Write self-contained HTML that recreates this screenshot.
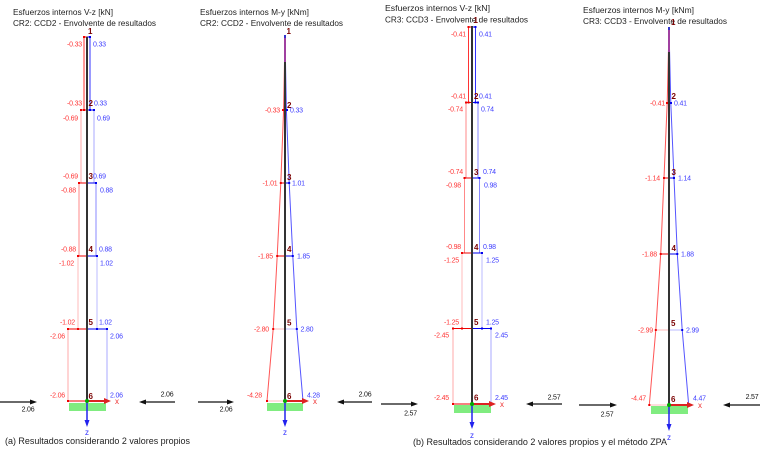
<!DOCTYPE html>
<html><head><meta charset="utf-8"><style>
html,body{margin:0;padding:0;background:#fff;}
svg{display:block;}
.t{font-family:"Liberation Sans",sans-serif;font-size:8.5px;fill:#222;}
.cap{font-family:"Liberation Sans",sans-serif;font-size:9px;fill:#222;}
.r{font-family:"Liberation Sans",sans-serif;font-size:7px;fill:#ff3535;text-anchor:end;letter-spacing:-0.2px;}
.b{font-family:"Liberation Sans",sans-serif;font-size:7px;fill:#3c3cff;letter-spacing:-0.2px;}
.k{font-family:"Liberation Sans",sans-serif;font-size:7px;fill:#111;text-anchor:middle;letter-spacing:-0.2px;}
.n{font-family:"Liberation Sans",sans-serif;font-size:8px;font-weight:bold;fill:#7a0000;}
.ax{font-family:"Liberation Sans",sans-serif;font-size:8px;}
</style></head><body>
<svg width="760" height="453" viewBox="0 0 760 453" xmlns="http://www.w3.org/2000/svg">

<!-- ============ PANEL 1 : V-z CR2 ============ -->
<text class="t" x="13" y="15" textLength="100" lengthAdjust="spacingAndGlyphs">Esfuerzos internos V-z [kN]</text>
<text class="t" x="13" y="26" textLength="143" lengthAdjust="spacingAndGlyphs">CR2: CCD2 - Envolvente de resultados</text>
<g stroke-width="1" fill="none">
  <line x1="84" y1="37" x2="84" y2="110" stroke="#f33"/>
  <line x1="90" y1="37" x2="90" y2="110" stroke="#33f"/>
  <line x1="81" y1="110" x2="81" y2="183" stroke="#faa"/>
  <line x1="94" y1="110" x2="94" y2="183" stroke="#aaf"/>
  <line x1="79" y1="183" x2="79" y2="256" stroke="#f88"/>
  <line x1="96" y1="183" x2="96" y2="256" stroke="#88f"/>
  <line x1="78" y1="256" x2="78" y2="329" stroke="#fbb"/>
  <line x1="97" y1="256" x2="97" y2="329" stroke="#bbf"/>
  <line x1="68" y1="329" x2="68" y2="401" stroke="#faa"/>
  <line x1="107" y1="329" x2="107" y2="401" stroke="#aaf"/>
  <line x1="84" y1="37" x2="87" y2="37" stroke="#e00"/><line x1="87" y1="37" x2="90" y2="37" stroke="#00e"/>
  <line x1="81" y1="110" x2="87" y2="110" stroke="#e00"/><line x1="87" y1="110" x2="94" y2="110" stroke="#00e"/>
  <line x1="79" y1="183" x2="87" y2="183" stroke="#e00"/><line x1="87" y1="183" x2="96" y2="183" stroke="#00e"/>
  <line x1="78" y1="256" x2="87" y2="256" stroke="#e00"/><line x1="87" y1="256" x2="97" y2="256" stroke="#00e"/>
  <line x1="68" y1="329" x2="87" y2="329" stroke="#e00"/><line x1="87" y1="329" x2="107" y2="329" stroke="#00e"/>
  <line x1="68" y1="401" x2="87" y2="401" stroke="#e00"/><line x1="87" y1="401" x2="107" y2="401" stroke="#00e"/>
</g>
<g fill="#e00"><rect x="83" y="36" width="2" height="2"/><rect x="80" y="109" width="2" height="2"/><rect x="83" y="109" width="2" height="2"/><rect x="78" y="182" width="2" height="2"/><rect x="77" y="255" width="2" height="2"/><rect x="67" y="328" width="2" height="2"/><rect x="77" y="328" width="2" height="2"/><rect x="67" y="400" width="2" height="2"/></g>
<g fill="#00e"><rect x="89" y="36" width="2" height="2"/><rect x="93" y="109" width="2" height="2"/><rect x="89" y="109" width="2" height="2"/><rect x="95" y="182" width="2" height="2"/><rect x="96" y="255" width="2" height="2"/><rect x="106" y="328" width="2" height="2"/><rect x="96" y="328" width="2" height="2"/></g>
<line x1="87" y1="37" x2="87" y2="401" stroke="#333" stroke-width="2"/>
<text class="r" x="82" y="46.5">-0.33</text><text class="b" x="93" y="46.5">0.33</text>
<text class="r" x="82" y="105.5">-0.33</text><text class="b" x="94" y="105.5">0.33</text>
<text class="r" x="78" y="120.5">-0.69</text><text class="b" x="97" y="120.5">0.69</text>
<text class="r" x="78" y="178.5">-0.69</text><text class="b" x="93" y="178.5">0.69</text>
<text class="r" x="76" y="192.5">-0.88</text><text class="b" x="100" y="192.5">0.88</text>
<text class="r" x="76" y="251.5">-0.88</text><text class="b" x="99" y="251.5">0.88</text>
<text class="r" x="74" y="265.5">-1.02</text><text class="b" x="100" y="265.5">1.02</text>
<text class="r" x="75" y="324.5">-1.02</text><text class="b" x="99" y="324.5">1.02</text>
<text class="r" x="65" y="338.5">-2.06</text><text class="b" x="110" y="338.5">2.06</text>
<text class="r" x="65" y="397.5">-2.06</text><text class="b" x="110" y="397.5">2.06</text>
<text class="n" x="88" y="34">1</text><text class="n" x="88.5" y="106">2</text><text class="n" x="88.5" y="179">3</text><text class="n" x="88.5" y="252">4</text><text class="n" x="88.5" y="325">5</text><text class="n" x="88.5" y="399">6</text>
<rect x="69" y="403" width="37" height="8" fill="#80ec80"/>
<line x1="87" y1="401" x2="106" y2="401" stroke="#d22" stroke-width="2"/><polygon points="104,398 111,401 104,404" fill="#d22"/>
<text class="ax" x="115" y="404" fill="#e33">x</text>
<line x1="87" y1="401" x2="87" y2="421" stroke="#22e" stroke-width="1.5"/><polygon points="84.5,420 87,427 89.5,420" fill="#22e"/>
<text class="ax" x="85" y="435" fill="#33f">z</text>
<circle cx="87" cy="401" r="2" fill="#0a0"/>
<line x1="0" y1="402" x2="31" y2="402" stroke="#111" stroke-width="1.3"/><polygon points="30,399.5 37,402 30,404.5" fill="#111"/>
<text class="k" x="28" y="411.5">2.06</text>
<line x1="175" y1="402" x2="145" y2="402" stroke="#111" stroke-width="1.3"/><polygon points="146,399.5 139,402 146,404.5" fill="#111"/>
<text class="k" x="167" y="396.5">2.06</text>

<!-- ============ PANEL 2 : M-y CR2 ============ -->
<text class="t" x="200" y="15" textLength="109" lengthAdjust="spacingAndGlyphs">Esfuerzos internos M-y [kNm]</text>
<text class="t" x="200" y="26" textLength="143" lengthAdjust="spacingAndGlyphs">CR2: CCD2 - Envolvente de resultados</text>
<polyline points="285,37 283.6,110 280.8,183 277.2,256 273.2,329 267,401" fill="none" stroke="#f55" stroke-width="1"/>
<polyline points="285,37 286.4,110 289.2,183 292.8,256 296.8,329 303,401" fill="none" stroke="#55f" stroke-width="1"/>
<g stroke-width="1">
  <line x1="283.6" y1="110" x2="285" y2="110" stroke="#e00"/><line x1="285" y1="110" x2="286.4" y2="110" stroke="#00e"/>
  <line x1="280.8" y1="183" x2="285" y2="183" stroke="#e00"/><line x1="285" y1="183" x2="289.2" y2="183" stroke="#00e"/>
  <line x1="277.2" y1="256" x2="285" y2="256" stroke="#e00"/><line x1="285" y1="256" x2="292.8" y2="256" stroke="#00e"/>
  <line x1="273.2" y1="329" x2="285" y2="329" stroke="#fbb"/><line x1="285" y1="329" x2="296.8" y2="329" stroke="#bbf"/>
  <line x1="267" y1="401" x2="285" y2="401" stroke="#fbb"/>
</g>
<g fill="#e00"><rect x="282" y="109" width="2" height="2"/><rect x="279.8" y="182" width="2" height="2"/><rect x="276.2" y="255" width="2" height="2"/><rect x="272.2" y="328" width="2" height="2"/><rect x="266" y="400" width="2" height="2"/></g>
<g fill="#00e"><rect x="286" y="109" width="2" height="2"/><rect x="288.2" y="182" width="2" height="2"/><rect x="291.8" y="255" width="2" height="2"/><rect x="295.8" y="328" width="2" height="2"/><rect x="302" y="400" width="2" height="2"/></g>
<line x1="285" y1="37" x2="285" y2="62" stroke="#a040a0" stroke-width="2"/>
<line x1="285" y1="62" x2="285" y2="401" stroke="#333" stroke-width="2"/>
<rect x="284" y="35" width="2" height="3" fill="#33c"/>
<text class="r" x="280" y="112.5">-0.33</text><text class="b" x="290" y="112.5">0.33</text>
<text class="r" x="277.5" y="185.5">-1.01</text><text class="b" x="292" y="185.5">1.01</text>
<text class="r" x="273" y="258.5">-1.85</text><text class="b" x="297" y="258.5">1.85</text>
<text class="r" x="269" y="331.5">-2.80</text><text class="b" x="300.5" y="331.5">2.80</text>
<text class="r" x="262" y="397.5">-4.28</text><text class="b" x="307" y="397.5">4.28</text>
<text class="n" x="286.5" y="34">1</text><text class="n" x="287" y="108">2</text><text class="n" x="287" y="180">3</text><text class="n" x="287" y="252">4</text><text class="n" x="287" y="325.5">5</text><text class="n" x="287" y="399">6</text>
<rect x="267" y="403" width="36" height="8" fill="#80ec80"/>
<line x1="285" y1="401" x2="304" y2="401" stroke="#d22" stroke-width="2"/><polygon points="302,398 309,401 302,404" fill="#d22"/>
<text class="ax" x="313" y="404" fill="#e33">x</text>
<line x1="285" y1="401" x2="285" y2="421" stroke="#22e" stroke-width="1.5"/><polygon points="282.5,420 285,427 287.5,420" fill="#22e"/>
<text class="ax" x="283" y="435" fill="#33f">z</text>
<circle cx="285" cy="401" r="2" fill="#0a0"/>
<line x1="198" y1="402" x2="228" y2="402" stroke="#111" stroke-width="1.3"/><polygon points="227,399.5 234,402 227,404.5" fill="#111"/>
<text class="k" x="226" y="411.5">2.06</text>
<line x1="372" y1="402" x2="343" y2="402" stroke="#111" stroke-width="1.3"/><polygon points="344,399.5 337,402 344,404.5" fill="#111"/>
<text class="k" x="365" y="396.5">2.06</text>

<text class="cap" x="5" y="444" textLength="185" lengthAdjust="spacingAndGlyphs">(a) Resultados considerando 2 valores propios</text>

<!-- ============ PANEL 3 : V-z CR3 ============ -->
<text class="t" x="385" y="11" textLength="105" lengthAdjust="spacingAndGlyphs">Esfuerzos internos V-z [kN]</text>
<text class="t" x="385" y="22.5" textLength="143" lengthAdjust="spacingAndGlyphs">CR3: CCD3 - Envolvente de resultados</text>
<g stroke-width="1" fill="none">
  <line x1="468.5" y1="27" x2="468.5" y2="102.5" stroke="#f33"/>
  <line x1="475.5" y1="27" x2="475.5" y2="102.5" stroke="#33f"/>
  <line x1="466" y1="102.5" x2="466" y2="178" stroke="#f88"/>
  <line x1="478" y1="102.5" x2="478" y2="178" stroke="#88f"/>
  <line x1="464.5" y1="178" x2="464.5" y2="253" stroke="#f88"/>
  <line x1="479.5" y1="178" x2="479.5" y2="253" stroke="#88f"/>
  <line x1="462" y1="253" x2="462" y2="328.5" stroke="#fbb"/>
  <line x1="482" y1="253" x2="482" y2="328.5" stroke="#bbf"/>
  <line x1="453" y1="328.5" x2="453" y2="404" stroke="#faa"/>
  <line x1="491" y1="328.5" x2="491" y2="404" stroke="#aaf"/>
  <line x1="468.5" y1="27" x2="472" y2="27" stroke="#e00"/><line x1="472" y1="27" x2="475.5" y2="27" stroke="#00e"/>
  <line x1="466" y1="102.5" x2="472" y2="102.5" stroke="#e00"/><line x1="472" y1="102.5" x2="478" y2="102.5" stroke="#00e"/>
  <line x1="464.5" y1="178" x2="472" y2="178" stroke="#e00"/><line x1="472" y1="178" x2="479.5" y2="178" stroke="#00e"/>
  <line x1="462" y1="253" x2="472" y2="253" stroke="#e00"/><line x1="472" y1="253" x2="482" y2="253" stroke="#00e"/>
  <line x1="453" y1="328.5" x2="472" y2="328.5" stroke="#e00"/><line x1="472" y1="328.5" x2="491" y2="328.5" stroke="#00e"/>
  <line x1="453" y1="404" x2="472" y2="404" stroke="#e00"/><line x1="472" y1="404" x2="491" y2="404" stroke="#00e"/>
</g>
<g fill="#e00"><rect x="467.5" y="26" width="2" height="2"/><rect x="465" y="101.5" width="2" height="2"/><rect x="467.5" y="101.5" width="2" height="2"/><rect x="463.5" y="177" width="2" height="2"/><rect x="461" y="252" width="2" height="2"/><rect x="452" y="327.5" width="2" height="2"/><rect x="461" y="327.5" width="2" height="2"/><rect x="452" y="403" width="2" height="2"/></g>
<g fill="#00e"><rect x="474.5" y="26" width="2" height="2"/><rect x="477" y="101.5" width="2" height="2"/><rect x="474.5" y="101.5" width="2" height="2"/><rect x="478.5" y="177" width="2" height="2"/><rect x="481" y="252" width="2" height="2"/><rect x="490" y="327.5" width="2" height="2"/><rect x="481" y="327.5" width="2" height="2"/></g>
<line x1="472" y1="26" x2="472" y2="404" stroke="#333" stroke-width="2"/>
<text class="r" x="466" y="36.5">-0.41</text><text class="b" x="479" y="36.5">0.41</text>
<text class="r" x="466" y="98.5">-0.41</text><text class="b" x="479" y="98.5">0.41</text>
<text class="r" x="463" y="111.5">-0.74</text><text class="b" x="481" y="111.5">0.74</text>
<text class="r" x="463" y="174">-0.74</text><text class="b" x="483" y="174">0.74</text>
<text class="r" x="461" y="187.5">-0.98</text><text class="b" x="484" y="187.5">0.98</text>
<text class="r" x="461" y="249">-0.98</text><text class="b" x="483" y="249">0.98</text>
<text class="r" x="459" y="262.5">-1.25</text><text class="b" x="486" y="262.5">1.25</text>
<text class="r" x="459" y="324.5">-1.25</text><text class="b" x="486" y="324.5">1.25</text>
<text class="r" x="449" y="337.5">-2.45</text><text class="b" x="495" y="337.5">2.45</text>
<text class="r" x="449" y="400">-2.45</text><text class="b" x="495" y="400">2.45</text>
<text class="n" x="473.5" y="23">1</text><text class="n" x="474" y="99">2</text><text class="n" x="474" y="175">3</text><text class="n" x="474" y="250">4</text><text class="n" x="474" y="325">5</text><text class="n" x="474" y="400.5">6</text>
<rect x="454" y="405" width="37" height="8" fill="#80ec80"/>
<line x1="472" y1="404" x2="491" y2="404" stroke="#d22" stroke-width="2"/><polygon points="489,401 496,404 489,407" fill="#d22"/>
<text class="ax" x="500" y="407" fill="#e33">x</text>
<line x1="472" y1="404" x2="472" y2="423" stroke="#22e" stroke-width="1.5"/><polygon points="469.5,422 472,429 474.5,422" fill="#22e"/>
<text class="ax" x="470" y="438" fill="#33f">z</text>
<circle cx="472" cy="404" r="2" fill="#0a0"/>
<line x1="381" y1="404" x2="412" y2="404" stroke="#111" stroke-width="1.3"/><polygon points="411,401.5 418,404 411,406.5" fill="#111"/>
<text class="k" x="410.5" y="415.5">2.57</text>
<line x1="562" y1="404" x2="532" y2="404" stroke="#111" stroke-width="1.3"/><polygon points="533,401.5 526,404 533,406.5" fill="#111"/>
<text class="k" x="554" y="399.5">2.57</text>

<!-- ============ PANEL 4 : M-y CR3 ============ -->
<text class="t" x="583" y="13" textLength="111" lengthAdjust="spacingAndGlyphs">Esfuerzos internos M-y [kNm]</text>
<text class="t" x="583" y="24" textLength="144" lengthAdjust="spacingAndGlyphs">CR3: CCD3 - Envolvente de resultados</text>
<polyline points="669,28 667.2,103 664,178 660.7,254 655.8,330 649.3,405" fill="none" stroke="#f55" stroke-width="1"/>
<polyline points="669,28 670.8,103 674,178 677.3,254 682.2,330 688.7,405" fill="none" stroke="#55f" stroke-width="1"/>
<g stroke-width="1">
  <line x1="667.2" y1="103" x2="669" y2="103" stroke="#e00"/><line x1="669" y1="103" x2="670.8" y2="103" stroke="#00e"/>
  <line x1="664" y1="178" x2="669" y2="178" stroke="#e00"/><line x1="669" y1="178" x2="674" y2="178" stroke="#00e"/>
  <line x1="660.7" y1="254" x2="669" y2="254" stroke="#e00"/><line x1="669" y1="254" x2="677.3" y2="254" stroke="#00e"/>
  <line x1="655.8" y1="330" x2="669" y2="330" stroke="#fbb"/><line x1="669" y1="330" x2="682.2" y2="330" stroke="#bbf"/>
  <line x1="649.3" y1="405" x2="669" y2="405" stroke="#fbb"/>
</g>
<g fill="#e00"><rect x="666" y="102" width="2" height="2"/><rect x="663" y="177" width="2" height="2"/><rect x="659.7" y="253" width="2" height="2"/><rect x="654.8" y="329" width="2" height="2"/><rect x="648.3" y="404" width="2" height="2"/></g>
<g fill="#00e"><rect x="670" y="102" width="2" height="2"/><rect x="673" y="177" width="2" height="2"/><rect x="676.3" y="253" width="2" height="2"/><rect x="681.2" y="329" width="2" height="2"/><rect x="687.7" y="404" width="2" height="2"/></g>
<line x1="669" y1="28" x2="669" y2="52" stroke="#a040a0" stroke-width="2"/>
<line x1="669" y1="52" x2="669" y2="405" stroke="#333" stroke-width="2"/>
<rect x="668" y="27" width="2" height="3" fill="#33c"/>
<text class="r" x="665" y="105.5">-0.41</text><text class="b" x="674" y="105.5">0.41</text>
<text class="r" x="660" y="180.5">-1.14</text><text class="b" x="678" y="180.5">1.14</text>
<text class="r" x="657" y="256.5">-1.88</text><text class="b" x="681" y="256.5">1.88</text>
<text class="r" x="653" y="332.5">-2.99</text><text class="b" x="686" y="332.5">2.99</text>
<text class="r" x="646" y="400.5">-4.47</text><text class="b" x="693" y="400.5">4.47</text>
<text class="n" x="671" y="25">1</text><text class="n" x="671.5" y="99">2</text><text class="n" x="671.5" y="175">3</text><text class="n" x="671.5" y="251">4</text><text class="n" x="671" y="326">5</text><text class="n" x="671" y="402">6</text>
<rect x="651" y="406" width="37" height="8" fill="#80ec80"/>
<line x1="669" y1="405" x2="689" y2="405" stroke="#d22" stroke-width="2"/><polygon points="687,402 694,405 687,408" fill="#d22"/>
<text class="ax" x="698" y="408" fill="#e33">x</text>
<line x1="669" y1="405" x2="669" y2="425" stroke="#22e" stroke-width="1.5"/><polygon points="666.5,424 669,431 671.5,424" fill="#22e"/>
<text class="ax" x="667" y="440" fill="#33f">z</text>
<circle cx="669" cy="405" r="2" fill="#0a0"/>
<line x1="579" y1="405" x2="611" y2="405" stroke="#111" stroke-width="1.3"/><polygon points="610,402.5 617,405 610,407.5" fill="#111"/>
<text class="k" x="607" y="416.5">2.57</text>
<line x1="760" y1="405" x2="729" y2="405" stroke="#111" stroke-width="1.3"/><polygon points="730,402.5 723,405 730,407.5" fill="#111"/>
<text class="k" x="752" y="399">2.57</text>

<text class="cap" x="413" y="445" textLength="254" lengthAdjust="spacingAndGlyphs">(b) Resultados considerando 2 valores propios y el método ZPA</text>
</svg>
</body></html>
